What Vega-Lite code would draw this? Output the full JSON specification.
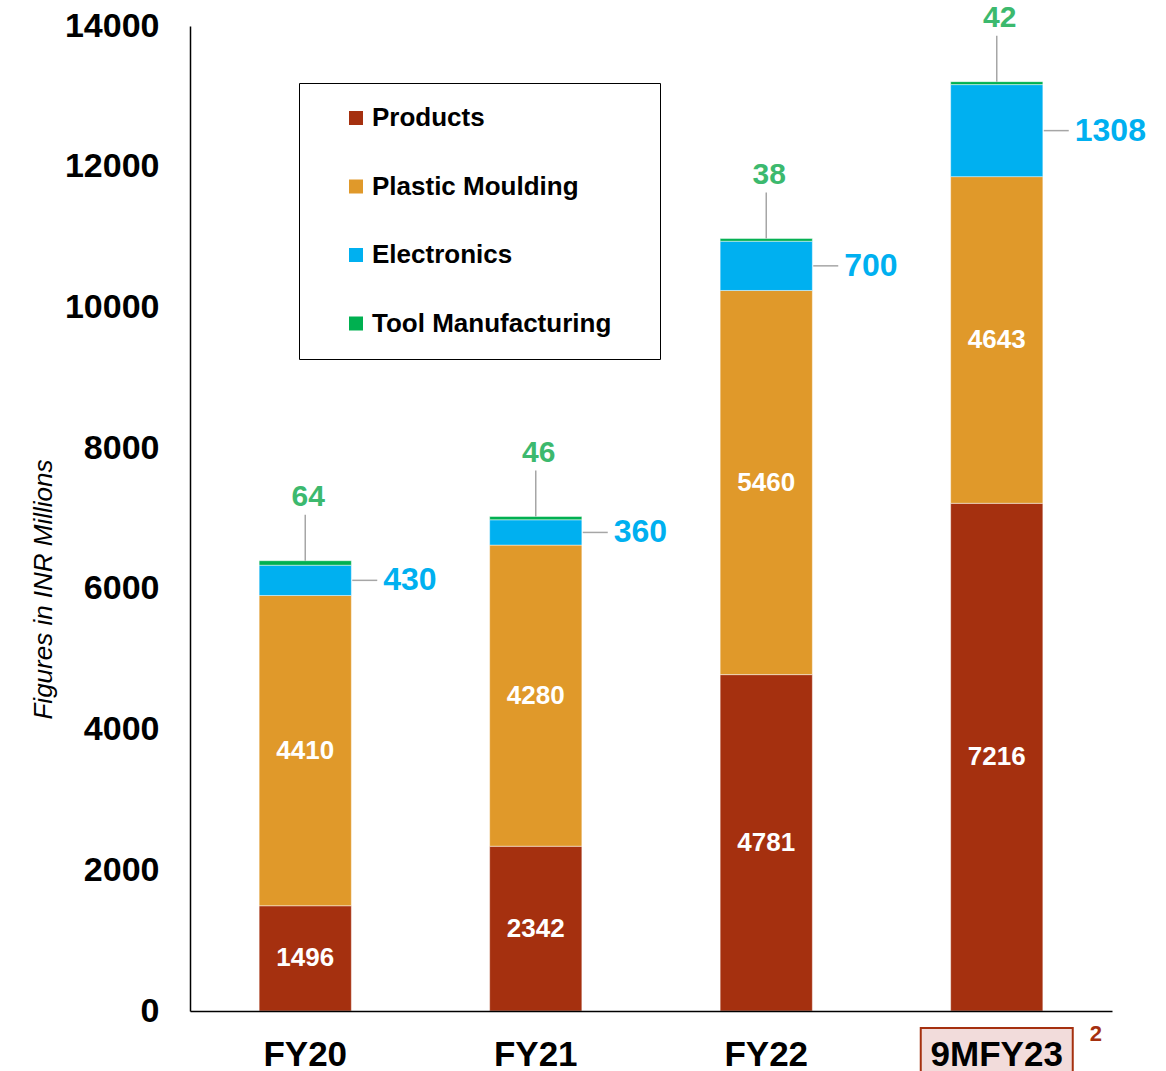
{
  "$schema": "https://vega.github.io/schema/vega-lite/v6.json",
  "width": 922,
  "height": 985,
  "autosize": {"type": "none"},
  "padding": {"left": 190, "top": 26, "right": 54, "bottom": 60},
  "background": "white",
  "config": {
    "view": {"stroke": null},
    "font": "Liberation Sans",
    "axis": {"grid": false, "ticks": false, "domainColor": "#000000", "domainWidth": 1.5, "labelColor": "#000000", "labelFontWeight": "bold", "labelFontSize": 34},
    "axisX": {"labelPadding": 54, "labelBaseline": "alphabetic", "labelAngle": 0, "labelFontSize": 35},
    "axisY": {"labelPadding": 31, "titleFontSize": 26, "titleFontStyle": "italic", "titleFontWeight": "normal", "titleColor": "#000000", "titlePadding": 8}
  },
  "encoding": {
    "x": {
      "field": "category",
      "type": "nominal",
      "scale": {"domain": ["FY20", "FY21", "FY22", "9MFY23"], "paddingInner": 0.6, "paddingOuter": 0.3},
      "axis": {"title": null, "zindex": 1}
    }
  },
  "layer": [
    {
      "data": {"values": [{"category": "9MFY23"}]},
      "mark": {"type": "bar", "width": 152, "yOffset": 17, "y2Offset": 80, "fill": "#F2DCDB", "stroke": "#A5300F", "strokeWidth": 2, "clip": false},
      "encoding": {
        "y": {"datum": 0, "type": "quantitative", "title": "Figures in INR Millions"},
        "y2": {"datum": 0}
      }
    },
    {
      "data": {"values": [{"category": "9MFY23", "note": "2"}]},
      "mark": {"type": "text", "xOffset": 99, "yOffset": 23, "fontSize": 22, "fontWeight": "bold", "color": "#A5300F", "baseline": "middle"},
      "encoding": {
        "y": {"datum": 0, "type": "quantitative", "title": "Figures in INR Millions"},
        "text": {"field": "note"}
      }
    },
    {
      "data": {
        "values": [
          {"category": "FY20", "segment": "Products", "value": 1496},
          {"category": "FY20", "segment": "Plastic Moulding", "value": 4410},
          {"category": "FY20", "segment": "Electronics", "value": 430},
          {"category": "FY20", "segment": "Tool Manufacturing", "value": 64},
          {"category": "FY21", "segment": "Products", "value": 2342},
          {"category": "FY21", "segment": "Plastic Moulding", "value": 4280},
          {"category": "FY21", "segment": "Electronics", "value": 360},
          {"category": "FY21", "segment": "Tool Manufacturing", "value": 46},
          {"category": "FY22", "segment": "Products", "value": 4781},
          {"category": "FY22", "segment": "Plastic Moulding", "value": 5460},
          {"category": "FY22", "segment": "Electronics", "value": 700},
          {"category": "FY22", "segment": "Tool Manufacturing", "value": 38},
          {"category": "9MFY23", "segment": "Products", "value": 7216},
          {"category": "9MFY23", "segment": "Plastic Moulding", "value": 4643},
          {"category": "9MFY23", "segment": "Electronics", "value": 1308},
          {"category": "9MFY23", "segment": "Tool Manufacturing", "value": 42}
        ]
      },
      "transform": [
        {"calculate": "indexof(['Products','Plastic Moulding','Electronics','Tool Manufacturing'], datum.segment)", "as": "ord"},
        {"stack": "value", "groupby": ["category"], "sort": [{"field": "ord", "order": "ascending"}], "as": ["y0", "y1"]},
        {"calculate": "(datum.y0 + datum.y1) / 2", "as": "mid"}
      ],
      "layer": [
        {
          "mark": {"type": "bar", "stroke": "#ffffff", "strokeOpacity": 0.45, "strokeWidth": 1},
          "encoding": {
            "y": {"field": "y0", "type": "quantitative", "scale": {"domain": [0, 14000]}, "title": "Figures in INR Millions", "axis": {"values": [0, 2000, 4000, 6000, 8000, 10000, 12000, 14000], "format": "d", "titleY": 563}},
            "y2": {"field": "y1"},
            "color": {
              "field": "segment",
              "type": "nominal",
              "scale": {"domain": ["Products", "Plastic Moulding", "Electronics", "Tool Manufacturing"], "range": ["#A5300F", "#E0992A", "#00B0F0", "#00B050"]},
              "legend": {
                "orient": "none", "legendX": 109, "legendY": 57,
                "title": "\u2003", "titleOrient": "right", "titleFontSize": 24, "titlePadding": 27,
                "labelFontSize": 26, "labelFontWeight": "bold", "labelColor": "#000000", "labelLimit": 500,
                "symbolType": "square", "symbolSize": 196, "symbolStrokeWidth": 0, "symbolOffset": 22,
                "labelOffset": 3, "rowPadding": 42.5, "padding": 22,
                "strokeColor": "#000000", "fillColor": "#ffffff"
              }
            }
          }
        },
        {
          "transform": [{"filter": "datum.segment == 'Products' || datum.segment == 'Plastic Moulding'"}],
          "mark": {"type": "text", "color": "#ffffff", "fontSize": 26, "fontWeight": "bold", "baseline": "middle"},
          "encoding": {
            "y": {"field": "mid", "type": "quantitative", "title": "Figures in INR Millions"},
            "text": {"field": "value", "type": "quantitative"}
          }
        },
        {
          "transform": [{"filter": "datum.segment == 'Electronics'"}],
          "mark": {"type": "rule", "color": "#A6A6A6", "strokeWidth": 1.5, "xOffset": 47, "x2Offset": 72},
          "encoding": {
            "x2": {"field": "category"},
            "y": {"field": "mid", "type": "quantitative", "title": "Figures in INR Millions"}
          }
        },
        {
          "transform": [{"filter": "datum.segment == 'Electronics'"}],
          "mark": {"type": "text", "color": "#00B0F0", "fontSize": 32, "fontWeight": "bold", "align": "left", "baseline": "middle", "xOffset": 78},
          "encoding": {
            "y": {"field": "mid", "type": "quantitative", "title": "Figures in INR Millions"},
            "text": {"field": "value", "type": "quantitative"}
          }
        },
        {
          "transform": [{"filter": "datum.segment == 'Tool Manufacturing'"}],
          "mark": {"type": "rule", "color": "#A6A6A6", "strokeWidth": 1.5, "y2Offset": -46},
          "encoding": {
            "y": {"field": "y1", "type": "quantitative", "title": "Figures in INR Millions"},
            "y2": {"field": "y1"}
          }
        },
        {
          "transform": [{"filter": "datum.segment == 'Tool Manufacturing'"}],
          "mark": {"type": "text", "color": "#3CB96E", "fontSize": 30, "fontWeight": "bold", "baseline": "middle", "yOffset": -64, "xOffset": 3},
          "encoding": {
            "y": {"field": "y1", "type": "quantitative", "title": "Figures in INR Millions"},
            "text": {"field": "value", "type": "quantitative"}
          }
        }
      ]
    }
  ]
}
